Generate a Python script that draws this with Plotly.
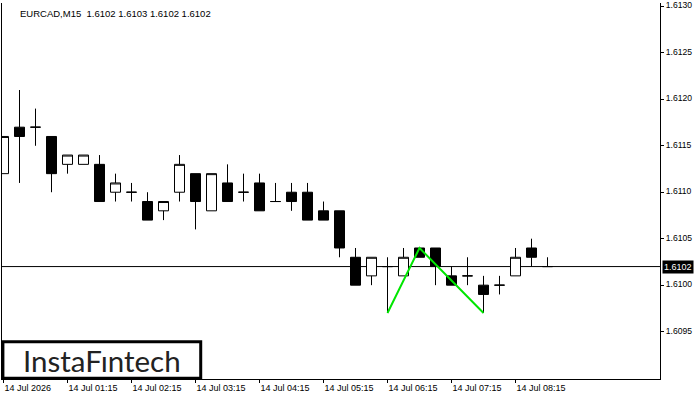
import plotly.graph_objects as go

# ---- data (EURCAD M15) ----
bar_index = list(range(35))
opens = [1.6112, 1.6117, 1.6117, 1.6116, 1.6113, 1.6113, 1.6113, 1.6110, 1.6110, 1.6109,
         1.6108, 1.6110, 1.6112, 1.6108, 1.6111, 1.6110, 1.6111, 1.6109, 1.6110, 1.6110,
         1.6108, 1.6108, 1.6103, 1.6101, 1.6102, 1.6101, 1.6104, 1.6104, 1.6101, 1.6101,
         1.6100, 1.6100, 1.6101, 1.6104, 1.6102]
highs = [1.6116, 1.6121, 1.6119, 1.6116, 1.6114, 1.6114, 1.6114, 1.6112, 1.6111, 1.6110,
         1.6109, 1.6114, 1.6112, 1.6112, 1.6113, 1.6112, 1.6112, 1.6111, 1.6111, 1.6111,
         1.6109, 1.6108, 1.6104, 1.6103, 1.6103, 1.6104, 1.6104, 1.6104, 1.6102, 1.6103,
         1.6101, 1.6101, 1.6104, 1.6105, 1.6103]
lows = [1.6112, 1.6111, 1.6115, 1.6110, 1.6112, 1.6113, 1.6109, 1.6109, 1.6109, 1.6107,
        1.6107, 1.6109, 1.6106, 1.6108, 1.6109, 1.6109, 1.6108, 1.6109, 1.6108, 1.6107,
        1.6107, 1.6103, 1.6100, 1.6100, 1.6097, 1.6101, 1.6103, 1.6100, 1.6100, 1.6100,
        1.6097, 1.6099, 1.6101, 1.6102, 1.6102]
closes = [1.6116, 1.6116, 1.6117, 1.6112, 1.6114, 1.6114, 1.6109, 1.6111, 1.6110, 1.6107,
          1.6109, 1.6113, 1.6109, 1.6112, 1.6109, 1.6110, 1.6108, 1.6109, 1.6109, 1.6107,
          1.6107, 1.6104, 1.6100, 1.6103, 1.6102, 1.6103, 1.6103, 1.6102, 1.6100, 1.6101,
          1.6099, 1.6100, 1.6103, 1.6103, 1.6102]

x_tick_index = [0, 4, 8, 12, 16, 20, 24, 28, 32]
x_tick_labels = ["14 Jul 2026", "14 Jul 01:15", "14 Jul 02:15", "14 Jul 03:15",
                 "14 Jul 04:15", "14 Jul 05:15", "14 Jul 06:15", "14 Jul 07:15",
                 "14 Jul 08:15"]
y_tick_values = [1.6095, 1.6100, 1.6105, 1.6110, 1.6115, 1.6120, 1.6125, 1.6130]

pattern_index = [24, 26, 30]
pattern_price = [1.6097, 1.6104, 1.6097]

current_price = 1.6102
header_text = "EURCAD,M15  1.6102 1.6103 1.6102 1.6102"

FONT = "Liberation Sans"

fig = go.Figure()
fig.add_trace(go.Candlestick(
    x=bar_index, open=opens, high=highs, low=lows, close=closes,
    increasing=dict(line=dict(color="black", width=1), fillcolor="white"),
    decreasing=dict(line=dict(color="black", width=1), fillcolor="black"),
    whiskerwidth=0, showlegend=False, hoverinfo="skip",
))
fig.add_trace(go.Scatter(
    x=pattern_index, y=pattern_price, mode="lines",
    line=dict(color="#00e600", width=2), showlegend=False, hoverinfo="skip",
))

# current price line (behind candles)
fig.add_shape(type="line", xref="paper", x0=0, x1=1, yref="y",
              y0=current_price, y1=current_price,
              line=dict(color="black", width=1), layer="below")

# logo box
fig.add_shape(type="rect", xref="paper", yref="paper",
              x0=0.00137, x1=0.302, y0=0.0018, y1=0.0989,
              line=dict(color="black", width=3), fillcolor="white", layer="above")
fig.add_annotation(xref="paper", yref="paper", x=0.1517, y=0.05,
                   text="InstaF\u0131ntech", showarrow=False,
                   xanchor="center", yanchor="middle",
                   font=dict(family="Lato", size=29.5, color="#222222"))

# header
fig.add_annotation(xref="paper", yref="paper", x=0.0243, y=0.972,
                   text=header_text, showarrow=False,
                   xanchor="left", yanchor="middle",
                   font=dict(family=FONT, size=9.5, color="black"))

# price label
fig.add_annotation(xref="paper", yref="y", x=1, y=current_price,
                   text=f"{current_price:.4f}", showarrow=False,
                   xanchor="left", yanchor="middle", xshift=2,
                   bgcolor="black", borderpad=1,
                   font=dict(family=FONT, size=9, color="white"))

fig.update_layout(
    width=700, height=400,
    margin=dict(l=2, r=40, t=0, b=21),
    paper_bgcolor="white", plot_bgcolor="white",
    boxgap=0.375, boxgroupgap=0,
    showlegend=False,
)
fig.update_xaxes(
    range=[-0.09375, 41.03125], rangeslider_visible=False,
    showgrid=False, zeroline=False,
    showline=True, linecolor="black", linewidth=1, mirror=False,
    tickmode="array", tickvals=x_tick_index, ticktext=x_tick_labels,
    ticks="outside", ticklen=3, tickcolor="black", tickwidth=1,
    ticklabelposition="outside right",
    tickfont=dict(family=FONT, size=9, color="black"),
)
fig.update_yaxes(
    range=[1.6089902, 1.6130363], side="right",
    showgrid=False, zeroline=False,
    showline=True, linecolor="black", linewidth=1, mirror=True,
    tickmode="array", tickvals=y_tick_values,
    ticktext=[f"{v:.4f}" for v in y_tick_values],
    ticks="outside", ticklen=3, tickcolor="black", tickwidth=1,
    ticklabeloverflow="allow", ticklabelshift=-1,
    tickfont=dict(family=FONT, size=8.6, color="black"),
)

fig.write_html("out.html")
